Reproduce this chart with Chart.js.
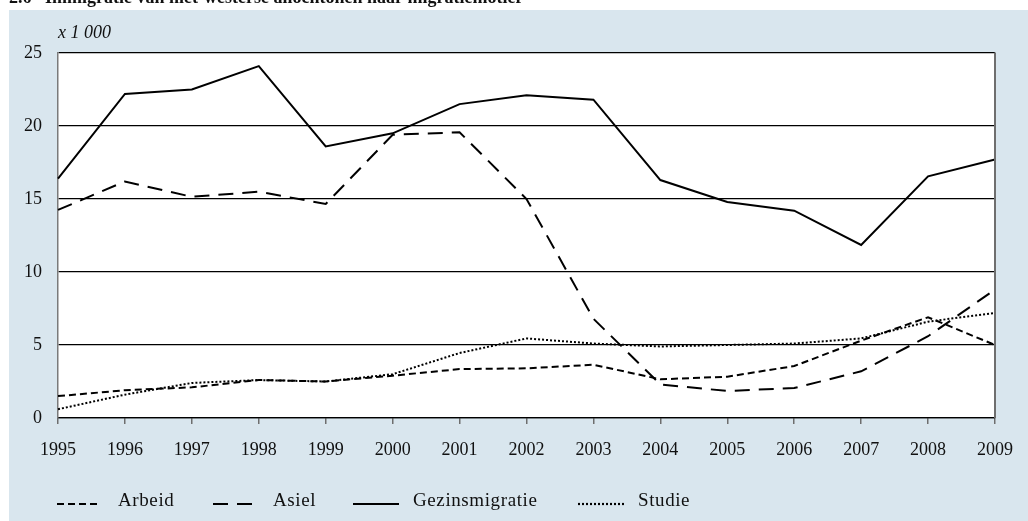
<!DOCTYPE html>
<html>
<head>
<meta charset="utf-8">
<script src="https://cdn.jsdelivr.net/npm/chart.js@4.4.1/dist/chart.umd.min.js"></script>
<style>
html,body{margin:0;padding:0;background:#fff;}
#wrap{position:relative;width:1028px;height:521px;}
</style>
</head>
<body>
<div id="wrap"><canvas id="c" width="1028" height="521"></canvas></div>
<script>
const years = ['1995','1996','1997','1998','1999','2000','2001','2002','2003','2004','2005','2006','2007','2008','2009'];
const arbeid = [1.5, 1.9, 2.1, 2.6, 2.5, 2.9, 3.35, 3.4, 3.65, 2.65, 2.83, 3.56, 5.3, 6.9, 5.0];
const asiel = [14.25, 16.2, 15.15, 15.5, 14.66, 19.4, 19.57, 15.0, 6.8, 2.3, 1.85, 2.05, 3.2, 5.6, 8.8];
const gezinsmigratie = [16.4, 22.2, 22.5, 24.1, 18.6, 19.5, 21.5, 22.1, 21.8, 16.3, 14.8, 14.2, 11.85, 16.55, 17.7];
const studie = [0.6, 1.6, 2.4, 2.6, 2.5, 3.0, 4.45, 5.45, 5.1, 4.9, 5.0, 5.1, 5.45, 6.6, 7.2];
const yTicks = [0, 5, 10, 15, 20, 25];
const titleText = '2.6   Immigratie van niet-westerse allochtonen naar migratiemotief';
const unitText = 'x 1 000';

const FONT = '"Liberation Serif", "Times New Roman", serif';
const PANEL = '#d9e6ee';

const dashes = { Arbeid: [7, 4], Asiel: [15, 9], Gezinsmigratie: [], Studie: [2, 2] };

const decor = {
  id: 'decor',
  beforeDraw(chart) {
    const ctx = chart.ctx, a = chart.chartArea;
    ctx.save();
    ctx.fillStyle = '#fff';
    ctx.fillRect(0, 0, chart.width, chart.height);
    ctx.fillStyle = PANEL;
    ctx.fillRect(9, 10, chart.width - 9, chart.height - 10);
    ctx.fillStyle = '#fff';
    ctx.fillRect(a.left, a.top, a.right - a.left, a.bottom - a.top);
    ctx.restore();
  },
  afterDraw(chart) {
    const ctx = chart.ctx, a = chart.chartArea;
    ctx.save();
    ctx.strokeStyle = '#6e6e6e';
    ctx.lineWidth = 2;
    ctx.beginPath();
    ctx.moveTo(a.right, a.top - 0.5);
    ctx.lineTo(a.right, a.bottom);
    ctx.stroke();
    ctx.fillStyle = '#111';
    ctx.font = 'bold 18px ' + FONT;
    ctx.textBaseline = 'alphabetic';
    ctx.textAlign = 'left';
    ctx.fillText(titleText, 9, 3);
    ctx.font = 'italic 18px ' + FONT;
    ctx.fillText(unitText, 58, 38);
    const items = [
      { label: 'Arbeid', x0: 57, x1: 100, tx: 118 },
      { label: 'Asiel', x0: 213, x1: 255, tx: 273 },
      { label: 'Gezinsmigratie', x0: 353, x1: 399, tx: 413 },
      { label: 'Studie', x0: 578, x1: 625, tx: 638 }
    ];
    ctx.font = '19px ' + FONT;
    try { ctx.letterSpacing = '0.6px'; } catch (e) {}
    items.forEach(it => {
      ctx.strokeStyle = '#000';
      ctx.lineWidth = 2.2;
      ctx.setLineDash(dashes[it.label]);
      ctx.beginPath();
      ctx.moveTo(it.x0, 504);
      ctx.lineTo(it.x1, 504);
      ctx.stroke();
      ctx.setLineDash([]);
      ctx.fillStyle = '#111';
      ctx.fillText(it.label, it.tx, 506);
    });
    ctx.restore();
  }
};

function ds(label, data) {
  return {
    label, data,
    borderColor: '#000',
    backgroundColor: '#000',
    borderWidth: 2,
    borderDash: dashes[label],
    pointRadius: 0,
    tension: 0,
    fill: false
  };
}

new Chart(document.getElementById('c'), {
  type: 'line',
  data: {
    labels: years,
    datasets: [
      ds('Arbeid', arbeid),
      ds('Asiel', asiel),
      ds('Gezinsmigratie', gezinsmigratie),
      ds('Studie', studie)
    ]
  },
  options: {
    responsive: false,
    animation: false,
    events: [],
    layout: { autoPadding: false, padding: { left: 0, right: 14, top: 53, bottom: 0 } },
    plugins: { legend: { display: false }, tooltip: { enabled: false }, title: { display: false } },
    scales: {
      x: {
        type: 'category',
        offset: false,
        afterFit(s) { s.height = 103; },
        grid: { drawOnChartArea: false, drawTicks: true, tickLength: 6, color: '#6e6e6e', lineWidth: 1.5 },
        border: { display: true, color: '#000', width: 1.2 },
        ticks: { color: '#111', font: { family: FONT, size: 18 }, padding: 15, maxRotation: 0, autoSkip: false }
      },
      y: {
        min: 0, max: 25,
        afterFit(s) { s.width = 58; },
        afterBuildTicks(s) { s.ticks = yTicks.map(v => ({ value: v })); },
        grid: { drawTicks: false, color: '#000', lineWidth: 1.2 },
        border: { display: true, color: '#7a7a7a', width: 1.5 },
        ticks: { color: '#111', font: { family: FONT, size: 18 }, padding: 16 }
      }
    }
  },
  plugins: [decor]
});
</script>
</body>
</html>
